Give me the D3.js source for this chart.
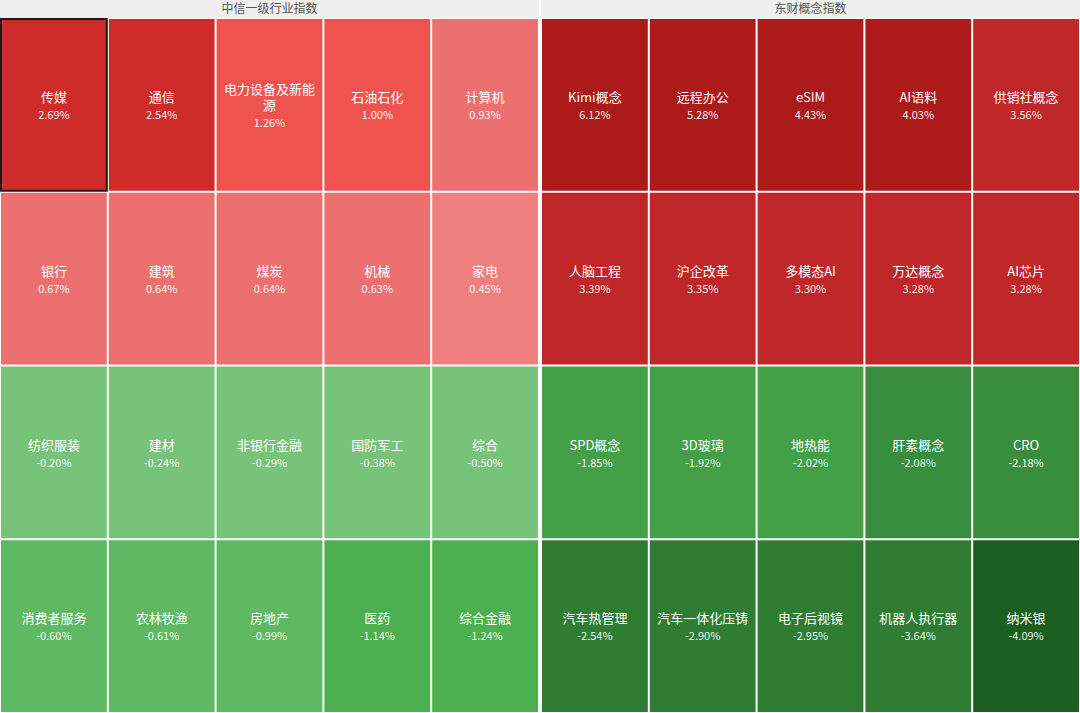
<!DOCTYPE html>
<html>
<head>
<meta charset="utf-8">
<script src="https://cdn.jsdelivr.net/npm/d3@7/dist/d3.min.js"></script>
<style>
  html, body { margin: 0; padding: 0; background: #ffffff; }
  svg { display: block; font-family: "Noto Sans CJK SC", "Noto Sans", sans-serif; }
</style>
</head>
<body>
<svg id="chart" width="1080" height="713"></svg>
<script>
const panelTitles = ["中信一级行业指数", "东财概念指数"];
const leftNames = ["传媒","通信","电力设备及新能源","石油石化","计算机",
                   "银行","建筑","煤炭","机械","家电",
                   "纺织服装","建材","非银行金融","国防军工","综合",
                   "消费者服务","农林牧渔","房地产","医药","综合金融"];
const leftValues = [2.69,2.54,1.26,1.00,0.93,
                    0.67,0.64,0.64,0.63,0.45,
                    -0.20,-0.24,-0.29,-0.38,-0.50,
                    -0.60,-0.61,-0.99,-1.14,-1.24];
const rightNames = ["Kimi概念","远程办公","eSIM","AI语料","供销社概念",
                    "人脑工程","沪企改革","多模态AI","万达概念","AI芯片",
                    "SPD概念","3D玻璃","地热能","肝素概念","CRO",
                    "汽车热管理","汽车一体化压铸","电子后视镜","机器人执行器","纳米银"];
const rightValues = [6.12,5.28,4.43,4.03,3.56,
                     3.39,3.35,3.30,3.28,3.28,
                     -1.85,-1.92,-2.02,-2.08,-2.18,
                     -2.54,-2.90,-2.95,-3.64,-4.09];

const colorThresholds = [-4, -2.5, -2.05, -1.5, -1, -0.55, 0, 0.5, 0.95, 2, 3, 4];
const colorRange = ["#1b5e20","#2e7d32","#388e3c","#43a047","#4caf50","#5eb962","#77c37a",
                    "#f08080","#ec7070","#ef5350","#d02b2b","#bf2729","#ac1a1a"];
const color = d3.scaleThreshold().domain(colorThresholds).range(colorRange);

const W = 1080, H = 713, headerH = 18, cols = 5, rows = 4;
const svg = d3.select("#chart");

const panelX = d3.scaleBand().domain([0,1]).range([0, W]).paddingInner(0);
const panels = [
  {title: panelTitles[0], names: leftNames, values: leftValues},
  {title: panelTitles[1], names: rightNames, values: rightValues}
];

panels.forEach((p, pi) => {
  const x0 = panelX(pi) + (pi === 1 ? 1 : 0);
  const pw = panelX.bandwidth() - 1;
  const g = svg.append("g").attr("transform", `translate(${x0},0)`);
  g.append("rect").attr("x", 0).attr("y", 0).attr("width", pw).attr("height", headerH)
    .attr("fill", "#efefef");
  g.append("text").attr("x", pw / 2).attr("y", 12.5).attr("text-anchor", "middle")
    .attr("font-size", 12).attr("fill", "#555").text(p.title);

  const xs = d3.scaleBand().domain(d3.range(cols)).range([0, pw]);
  const ys = d3.scaleBand().domain(d3.range(rows)).range([headerH, H]);
  const data = p.names.map((n, i) => ({name: n, value: p.values[i], c: i % cols, r: Math.floor(i / cols)}));

  const cell = g.selectAll("g.cell").data(data).enter().append("g").attr("class", "cell")
    .attr("transform", d => `translate(${xs(d.c)},${ys(d.r)})`);
  cell.append("rect")
    .attr("x", 1).attr("y", 1)
    .attr("width", xs.bandwidth() - 2).attr("height", ys.bandwidth() - 2)
    .attr("fill", d => color(d.value));

  cell.each(function(d) {
    const cg = d3.select(this);
    const cw = xs.bandwidth(), ch = ys.bandwidth();
    const maxW = cw - 12;
    const chars = Array.from(d.name);
    const lines = [];
    let cur = "";
    const probe = cg.append("text").attr("font-size", 13).attr("visibility", "hidden");
    chars.forEach(chr => {
      probe.text(cur + chr);
      if (probe.node().getComputedTextLength() > maxW && cur.length) {
        lines.push(cur); cur = chr;
      } else cur += chr;
    });
    lines.push(cur);
    probe.remove();
    const lh = 16.5;
    const total = lines.length * lh + 17;
    const top = ch / 2 - total / 2 + 14;
    lines.forEach((ln, li) => {
      cg.append("text").attr("text-anchor", "middle").attr("font-size", 13)
        .attr("fill", "#ffffff")
        .attr("x", cw / 2).attr("y", top + li * lh).text(ln);
    });
    cg.append("text").attr("text-anchor", "middle").attr("font-size", 11)
      .attr("fill", "#ffffff").attr("fill-opacity", 0.95)
      .attr("x", cw / 2).attr("y", top + (lines.length - 1) * lh + 17)
      .text(d.value.toFixed(2) + "%");
  });

  if (pi === 0) {
    g.append("rect").attr("x", xs(0) + 1).attr("y", ys(0) + 1)
      .attr("width", xs.bandwidth() - 2).attr("height", ys.bandwidth() - 2)
      .attr("fill", "none").attr("stroke", "#1a1a1a").attr("stroke-width", 2);
  }
});
</script>
</body>
</html>
